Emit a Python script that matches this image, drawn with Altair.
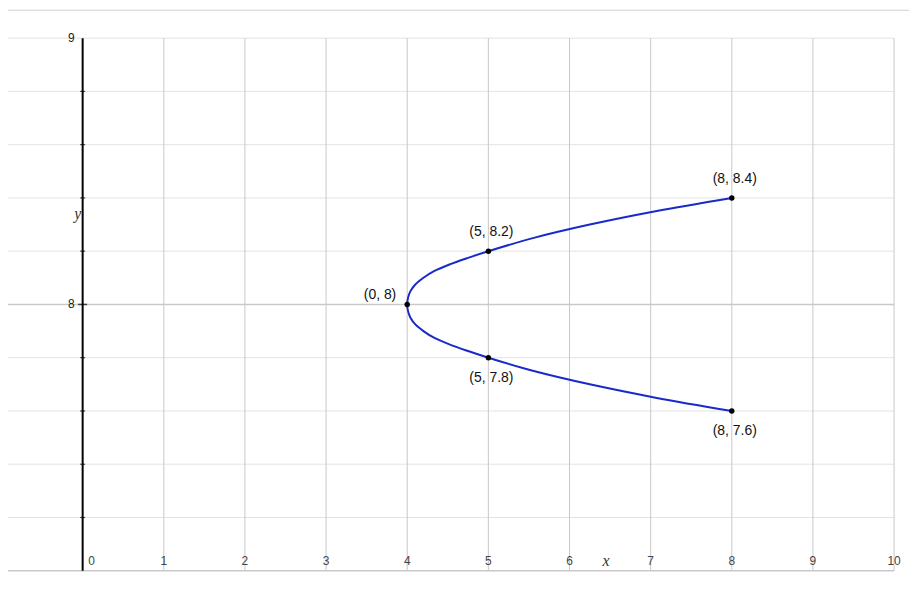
import altair as alt
import pandas as pd

# ---- data ----
curve_x = [8, 7.06, 6.25, 5.56, 5, 4.75, 4.52, 4.33, 4.2, 4.1, 4.04, 4.01, 4,
           4.01, 4.04, 4.1, 4.2, 4.33, 4.52, 4.75, 5, 5.56, 6.25, 7.06, 8]
curve_y = [7.6, 7.65, 7.7, 7.75, 7.8, 7.825, 7.85, 7.875, 7.9, 7.925, 7.95, 7.975, 8,
           8.025, 8.05, 8.075, 8.1, 8.125, 8.15, 8.175, 8.2, 8.25, 8.3, 8.35, 8.4]

point_x = [4, 5, 8, 5, 8]
point_y = [8, 8.2, 8.4, 7.8, 7.6]
point_labels = ["(0, 8)", "(5, 8.2)", "(8, 8.4)", "(5, 7.8)", "(8, 7.6)"]
label_side = ["left", "above", "above", "below", "below"]

x_ticks = [0, 1, 2, 3, 4, 5, 6, 7, 8, 9, 10]
x_tick_labels = ["0", "1", "2", "3", "4", "5", "6", "7", "8", "9", "10"]
y_minor = [7.2, 7.4, 7.6, 7.8, 8.2, 8.4, 8.6, 8.8, 9.0]
y_major = [7.0, 8.0]
y_ticks = [7.2, 7.4, 7.6, 7.8, 8.2, 8.4, 8.6, 8.8]
y_labels = [8, 9]
x_title_pos = [6.45]
y_title_pos = [8.34]

X = alt.Scale(domain=[-0.92, 10], nice=False, zero=False)
Y = alt.Scale(domain=[7, 9], nice=False, zero=False)
FONT = "Liberation Sans"


def xq(f):
    return alt.X(f, type="quantitative", scale=X, axis=None)


def yq(f):
    return alt.Y(f, type="quantitative", scale=Y, axis=None)


curve_df = pd.DataFrame({"x": curve_x, "y": curve_y, "i": range(len(curve_x))})
pts_df = pd.DataFrame({"x": point_x, "y": point_y, "label": point_labels, "side": label_side})

top_line = alt.Chart(pd.DataFrame({"a": [0]})).mark_rule(color="#d0d0d0", strokeWidth=1).encode(
    y=alt.value(-28), x=alt.value(-10), x2=alt.value(910)
)

hgrid = alt.Chart(pd.DataFrame({"y": y_minor})).mark_rule(color="#e3e3e3", strokeWidth=1).encode(y=yq("y"))
hgrid_major = alt.Chart(pd.DataFrame({"y": y_major})).mark_rule(color="#c9c9c9", strokeWidth=1.5).encode(y=yq("y"))
vgrid = alt.Chart(pd.DataFrame({"x": x_ticks[1:]})).mark_rule(color="#c8c8c8", strokeWidth=1).encode(x=xq("x"))

yaxis = alt.Chart(pd.DataFrame({"x": [0]})).mark_rule(color="black", strokeWidth=2).encode(x=xq("x"))
yticks = alt.Chart(pd.DataFrame({"y": y_ticks, "x": [0] * len(y_ticks)})).mark_tick(
    orient="horizontal", size=5, thickness=1.2, color="black"
).encode(x=xq("x"), y=yq("y"))
ytick_major = alt.Chart(pd.DataFrame({"y": [8], "x": [0]})).mark_tick(
    orient="horizontal", size=9, thickness=1.5, color="black"
).encode(x=xq("x"), y=yq("y"))

xlab_df = pd.DataFrame({"x": x_ticks, "t": x_tick_labels, "y": [7] * len(x_ticks)})
xlabels = alt.Chart(xlab_df).transform_filter("datum.x > 0").mark_text(
    font=FONT, fontSize=12, color="#444444", dy=-10, baseline="middle", align="center"
).encode(x=xq("x"), y=yq("y"), text="t:N")
xlabel0 = alt.Chart(xlab_df).transform_filter("datum.x == 0").mark_text(
    font=FONT, fontSize=12, color="#444444", dy=-10, dx=9, baseline="middle", align="center"
).encode(x=xq("x"), y=yq("y"), text="t:N")

ylabels = alt.Chart(pd.DataFrame({"y": y_labels, "x": [0] * len(y_labels)})).mark_text(
    font=FONT, fontSize=12, color="#222222", dx=-8, baseline="middle", align="right"
).encode(x=xq("x"), y=yq("y"), text="y:Q")

xtitle = alt.Chart(pd.DataFrame({"x": x_title_pos, "y": [7]})).mark_text(
    font="Liberation Serif", fontStyle="italic", fontSize=16, color="#333333", dy=-10, baseline="middle"
).encode(x=xq("x"), y=yq("y"), text=alt.value("x"))
ytitle = alt.Chart(pd.DataFrame({"x": [0], "y": y_title_pos})).mark_text(
    font="Liberation Serif", fontStyle="italic", fontSize=16, color="#333333", dx=-5, baseline="middle", align="center"
).encode(x=xq("x"), y=yq("y"), text=alt.value("y"))

curve = alt.Chart(curve_df).mark_line(color="#1a2ac8", strokeWidth=2, interpolate="catmull-rom").encode(
    x=xq("x"), y=yq("y"), order="i:Q"
)
points = alt.Chart(pts_df).mark_circle(color="black", opacity=1, size=30).encode(x=xq("x"), y=yq("y"))

lab_above = alt.Chart(pts_df).transform_filter("datum.side == 'above'").mark_text(
    font=FONT, fontSize=14, color="#111111", dy=-19, dx=3, align="center", baseline="middle"
).encode(x=xq("x"), y=yq("y"), text="label:N")
lab_below = alt.Chart(pts_df).transform_filter("datum.side == 'below'").mark_text(
    font=FONT, fontSize=14, color="#111111", dy=20, dx=3, align="center", baseline="middle"
).encode(x=xq("x"), y=yq("y"), text="label:N")
lab_left = alt.Chart(pts_df).transform_filter("datum.side == 'left'").mark_text(
    font=FONT, fontSize=14, color="#111111", dy=-9, dx=-11, align="right", baseline="middle"
).encode(x=xq("x"), y=yq("y"), text="label:N")

chart = alt.layer(
    top_line, hgrid, hgrid_major, vgrid, yaxis, yticks, ytick_major,
    xlabels, xlabel0, ylabels, xtitle, ytitle,
    curve, points, lab_above, lab_below, lab_left,
).properties(
    width=890, height=535,
    autosize=alt.AutoSizeParams(type="none"),
    padding={"left": 0, "top": 29, "right": 15, "bottom": 6},
).configure_view(stroke=None)

chart.save("out.html", embed_options={"renderer": "svg", "actions": False})
